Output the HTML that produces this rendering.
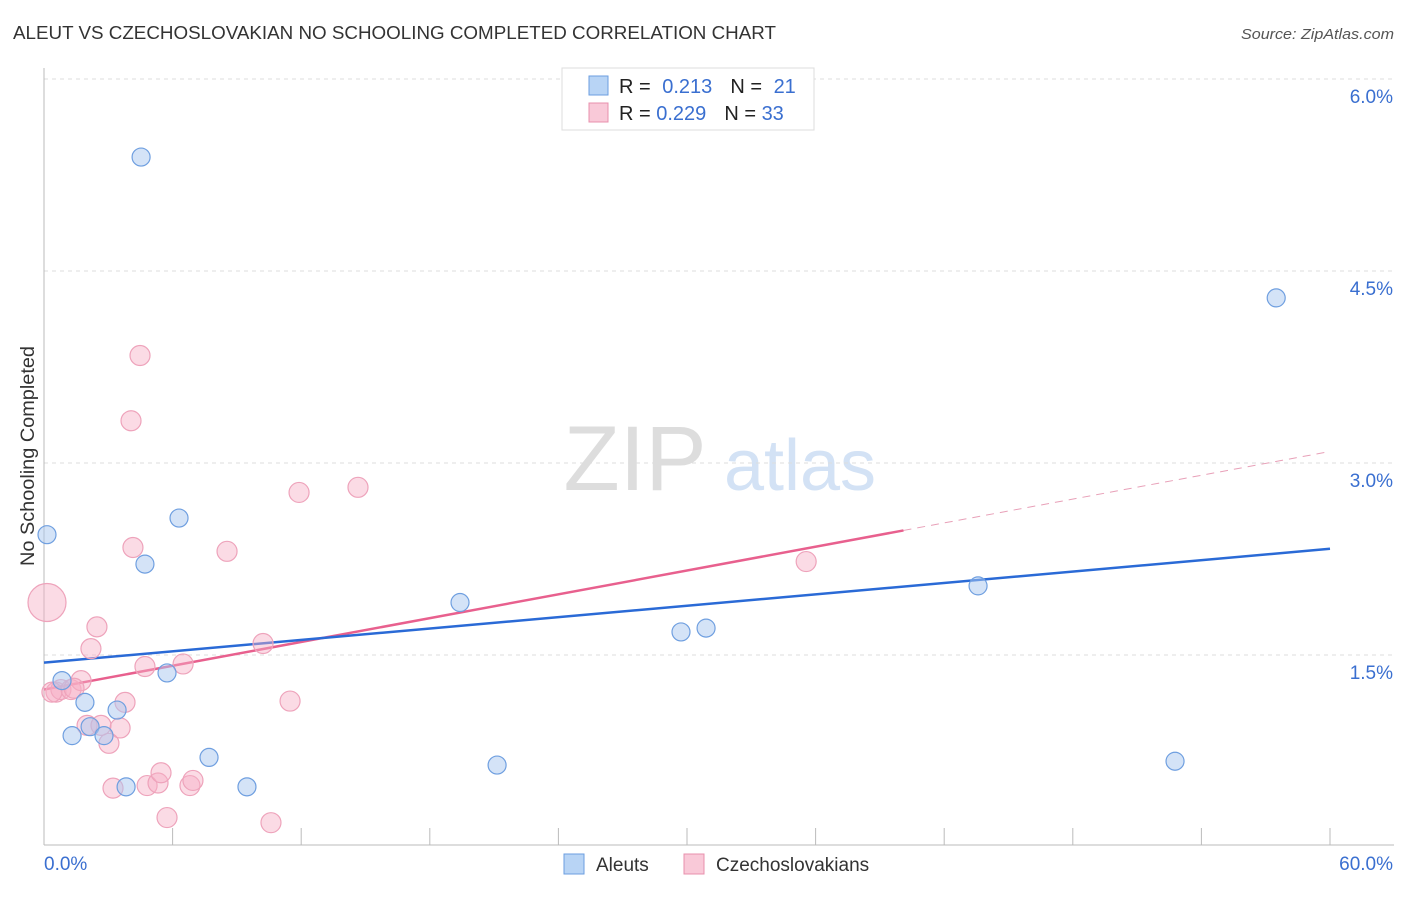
<!DOCTYPE html>
<html><head><meta charset="utf-8"><style>
body{margin:0;background:#fff;font-family:"Liberation Sans",sans-serif;}
svg text{font-family:"Liberation Sans",sans-serif;}
</style></head><body>
<svg id="chart" width="1406" height="892" xmlns="http://www.w3.org/2000/svg">
<text x="13" y="39" font-size="18" fill="#333" textLength="763" lengthAdjust="spacingAndGlyphs">ALEUT VS CZECHOSLOVAKIAN NO SCHOOLING COMPLETED CORRELATION CHART</text>
<text x="1394" y="39" font-size="15" fill="#555" font-style="italic" text-anchor="end" textLength="153" lengthAdjust="spacingAndGlyphs">Source: ZipAtlas.com</text>
<text x="34" y="456" font-size="19" fill="#333" transform="rotate(-90 34 456)" text-anchor="middle" textLength="220" lengthAdjust="spacingAndGlyphs">No Schooling Completed</text>
<g><text x="635" y="490" font-size="92" fill="#ddd" font-family="Liberation Serif" text-anchor="middle">ZIP</text><text x="800" y="490" font-size="72" fill="#d3e2f5" text-anchor="middle">atlas</text></g>
<g id="grid"></g><g id="axes"></g><g id="lines"></g><g id="points"></g>
<g>
<rect x="562" y="68" width="252" height="62" fill="#fff" stroke="#ddd"/>
<rect x="589" y="76" width="19" height="19" fill="#b8d4f5" stroke="#6b9ee0"/>
<text x="619" y="93" font-size="20" fill="#222">R = <tspan fill="#3a6fd0" dx="6">0.213</tspan><tspan dx="18" fill="#222">N = </tspan><tspan dx="6" fill="#3a6fd0">21</tspan></text>
<rect x="589" y="103" width="19" height="19" fill="#f9c9d8" stroke="#e890ad"/>
<text x="619" y="120" font-size="20" fill="#222">R = <tspan fill="#3a6fd0">0.229</tspan><tspan dx="18" fill="#222">N = </tspan><tspan fill="#3a6fd0">33</tspan></text>
</g>
<g>
<rect x="564" y="854" width="20" height="20" fill="#b8d4f5" stroke="#6b9ee0"/>
<text x="596" y="871" font-size="19" fill="#333">Aleuts</text>
<rect x="684" y="854" width="20" height="20" fill="#f9c9d8" stroke="#e890ad"/>
<text x="716" y="871" font-size="19" fill="#333">Czechoslovakians</text>
</g>
</svg>
<script>
const xTicks=[0,60];
const yTicks=[1.5,3.0,4.5,6.0];
const aleutX=[0.14,4.53,6.30,4.71,0.84,1.91,1.31,2.15,3.41,2.80,5.74,3.83,7.70,9.47,19.41,21.14,29.72,30.89,43.58,52.77,57.49];
const aleutY=[2.44,5.39,2.57,2.21,1.30,1.13,0.87,0.94,1.07,0.87,1.36,0.47,0.70,0.47,1.91,0.64,1.68,1.71,2.04,0.67,4.29];
const czX=[0.14,4.48,4.06,11.90,14.65,4.15,8.54,35.56,2.47,2.19,10.22,4.71,6.49,0.56,0.79,1.26,1.73,1.40,3.78,11.48,2.01,2.66,3.55,3.03,3.22,4.81,5.32,5.46,6.81,6.95,5.74,10.59,0.37];
const czY=[1.91,3.84,3.33,2.77,2.81,2.34,2.31,2.23,1.72,1.55,1.59,1.41,1.43,1.21,1.23,1.23,1.30,1.24,1.13,1.14,0.95,0.95,0.93,0.81,0.46,0.48,0.50,0.58,0.48,0.52,0.23,0.19,1.21];
const czR=[19,10,10,10,10,10,10,10,10,10,10,10,10,10,10,10,10,10,10,10,10,10,10,10,10,10,10,10,10,10,10,10,10];
const aleutTrend=[1.44,2.33];
const czTrend=[1.23,3.09];
const czSolidEnd=40.1;
const NS="http://www.w3.org/2000/svg";
const sx=v=>44+v/60*1286, sy=v=>847-v*128;
function mk(t,a,p){const e=document.createElementNS(NS,t);for(const k in a)e.setAttribute(k,a[k]);document.getElementById(p).appendChild(e);return e;}
yTicks.forEach(t=>{
 const l=mk('line',{x1:44,x2:1394,y1:sy(t),y2:sy(t),stroke:'#ddd','stroke-dasharray':'4,4'},'grid');
 
 
 const tx=mk('text',{x:1393,y:sy(t)+24,'font-size':19,fill:'#3a6fd0','text-anchor':'end'},'grid');
 tx.textContent=t.toFixed(1)+'%';
 
 
});
mk('line',{x1:44,x2:44,y1:68,y2:845,stroke:'#bbb'},'axes');
mk('line',{x1:44,x2:1394,y1:845,y2:845,stroke:'#bbb'},'axes');
for(let i=0;i<=10;i++){const x=sx(i*6);const tk=mk('line',{x1:x,x2:x,y1:828,y2:845,stroke:'#bbb'},'axes');}
xTicks.forEach((t,i)=>{const tx=mk('text',{x:i?1393:44,y:870,'font-size':19,fill:'#3a6fd0','text-anchor':i?'end':'start'},'axes');tx.textContent=t.toFixed(1)+'%';
 
 });
const ln=(x1,y1,x2,y2,c,w,d,n)=>{const e=mk('line',{x1:sx(x1),y1:sy(y1),x2:sx(x2),y2:sy(y2),stroke:c,'stroke-width':w},'lines');if(d)e.setAttribute('stroke-dasharray',d);};
const czAt=x=>czTrend[0]+(czTrend[1]-czTrend[0])*x/60;
ln(0,czTrend[0],czSolidEnd,czAt(czSolidEnd),'#e8608e',2.5,null,'czechoslovakian-trendline');
ln(czSolidEnd,czAt(czSolidEnd),60,czTrend[1],'#e8a0b8',1,'8,6','czechoslovakian-trendline-extension');
ln(0,aleutTrend[0],60,aleutTrend[1],'#2a6ad6',2.5,null,'aleut-trendline');
czX.forEach((x,i)=>{const c=mk('circle',{cx:sx(x),cy:sy(czY[i]),r:czR[i],fill:'rgba(246,176,198,0.45)',stroke:'#eea3bb','stroke-width':1.2},'points');
 
 });
aleutX.forEach((x,i)=>{const c=mk('circle',{cx:sx(x),cy:sy(aleutY[i]),r:9,fill:'rgba(170,200,240,0.5)',stroke:'#6f9fe0','stroke-width':1.2},'points');
 
 });
</script>
</body></html>
